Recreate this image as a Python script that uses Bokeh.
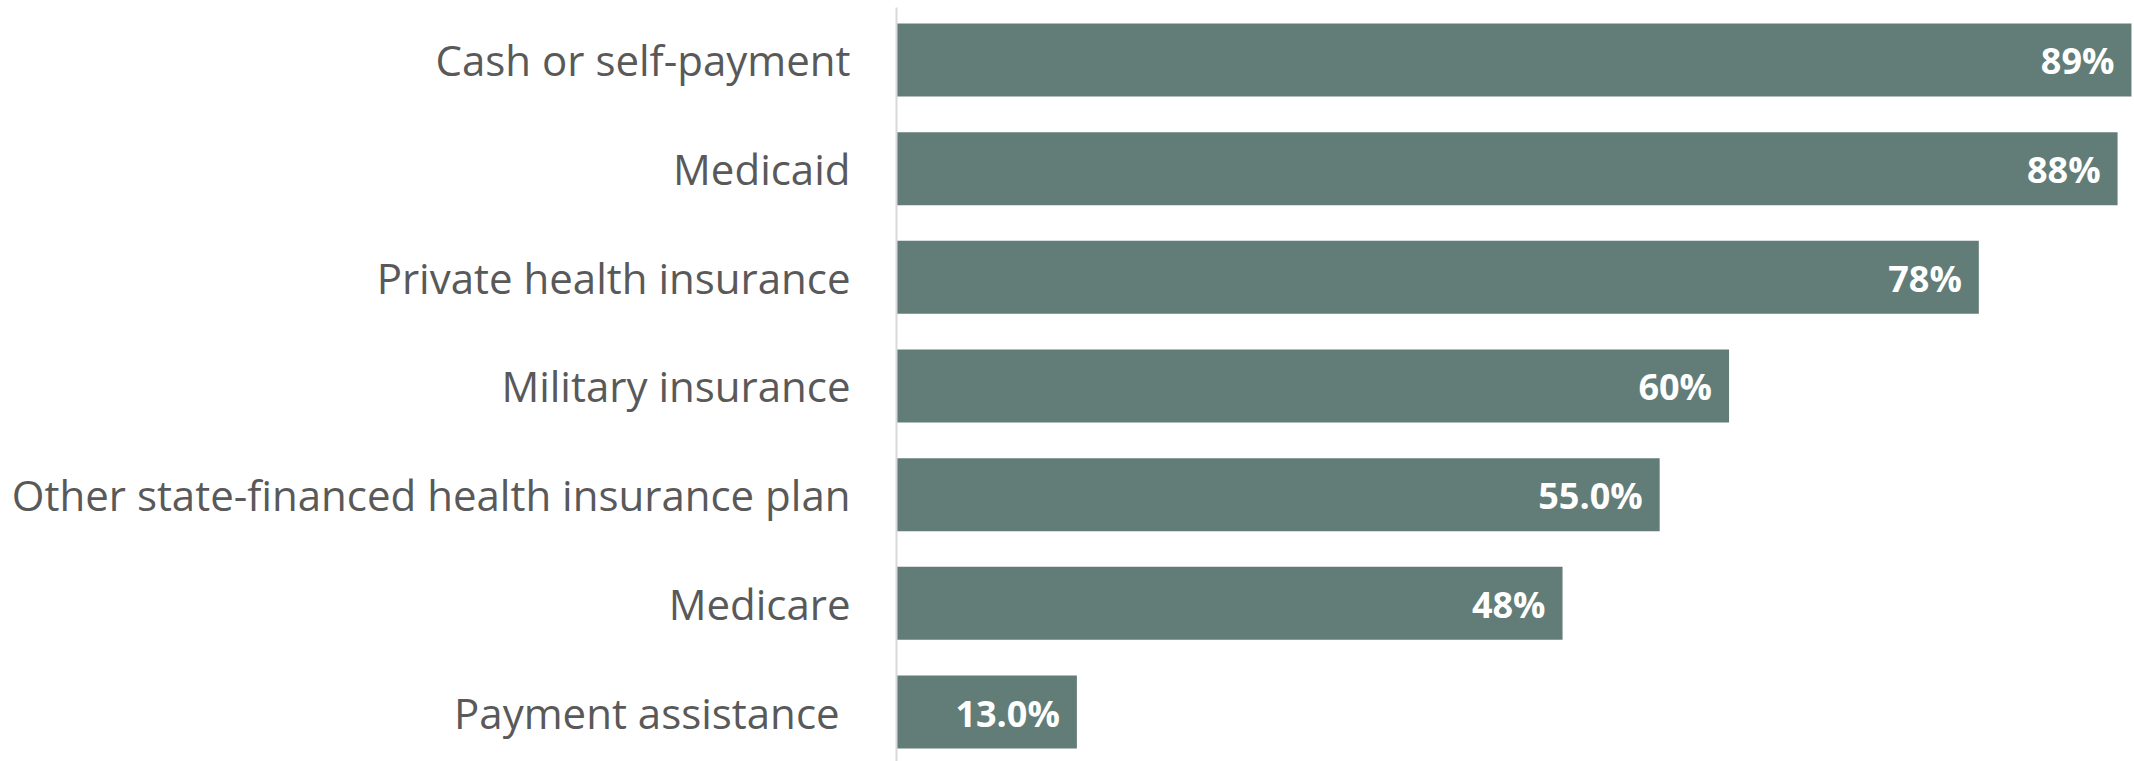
from bokeh.plotting import figure
from bokeh.models import Range1d, ColumnDataSource, FixedTicker
from bokeh.core.properties import value
from bokeh.embed import file_html
from bokeh.resources import INLINE

categories = [
    "Cash or self-payment",
    "Medicaid",
    "Private health insurance",
    "Military insurance",
    "Other state-financed health insurance plan",
    "Medicare",
    "Payment assistance ",
]
values = [89, 88, 78, 60, 55.0, 48, 13.0]
value_labels = ["89%", "88%", "78%", "60%", "55.0%", "48%", "13.0%"]

n = len(categories)
ypos = [n - 1 - i for i in range(n)]

src = ColumnDataSource(dict(y=ypos, v=values, lab=value_labels, cat=categories))

p = figure(width=2134, height=761, output_backend="svg", toolbar_location=None,
           x_range=Range1d(0, 89.22), y_range=Range1d(-0.4555, 6.4831),
           x_axis_location=None, min_border_left=896, min_border_right=0,
           min_border_top=7, min_border_bottom=0)
p.outline_line_color = None
p.grid.visible = False
p.background_fill_color = "white"
p.border_fill_color = "white"

p.hbar(y="y", left=0, right="v", height=0.672, source=src,
       fill_color="#627D77", line_color=None)

p.text(x="v", y="y", text="lab", source=src, x_offset=-17, y_offset=1,
       text_align="right", text_baseline="middle", text_color="white",
       text_font=value("Open Sans"), text_font_style="bold",
       text_font_size="36px")

ax = p.yaxis[0]
ax.ticker = FixedTicker(ticks=ypos)
ax.major_label_overrides = {y: c for y, c in zip(ypos, categories)}
ax.major_tick_out = 0
ax.major_tick_in = 0
ax.minor_tick_out = 0
ax.minor_tick_in = 0
ax.axis_line_color = "#D9D9D9"
ax.axis_line_width = 2
ax.major_label_standoff = 46
ax.major_label_text_font = "Open Sans"
ax.major_label_text_font_size = "42px"
ax.major_label_text_color = "#595959"

open("out.html", "w").write(file_html(p, INLINE))
